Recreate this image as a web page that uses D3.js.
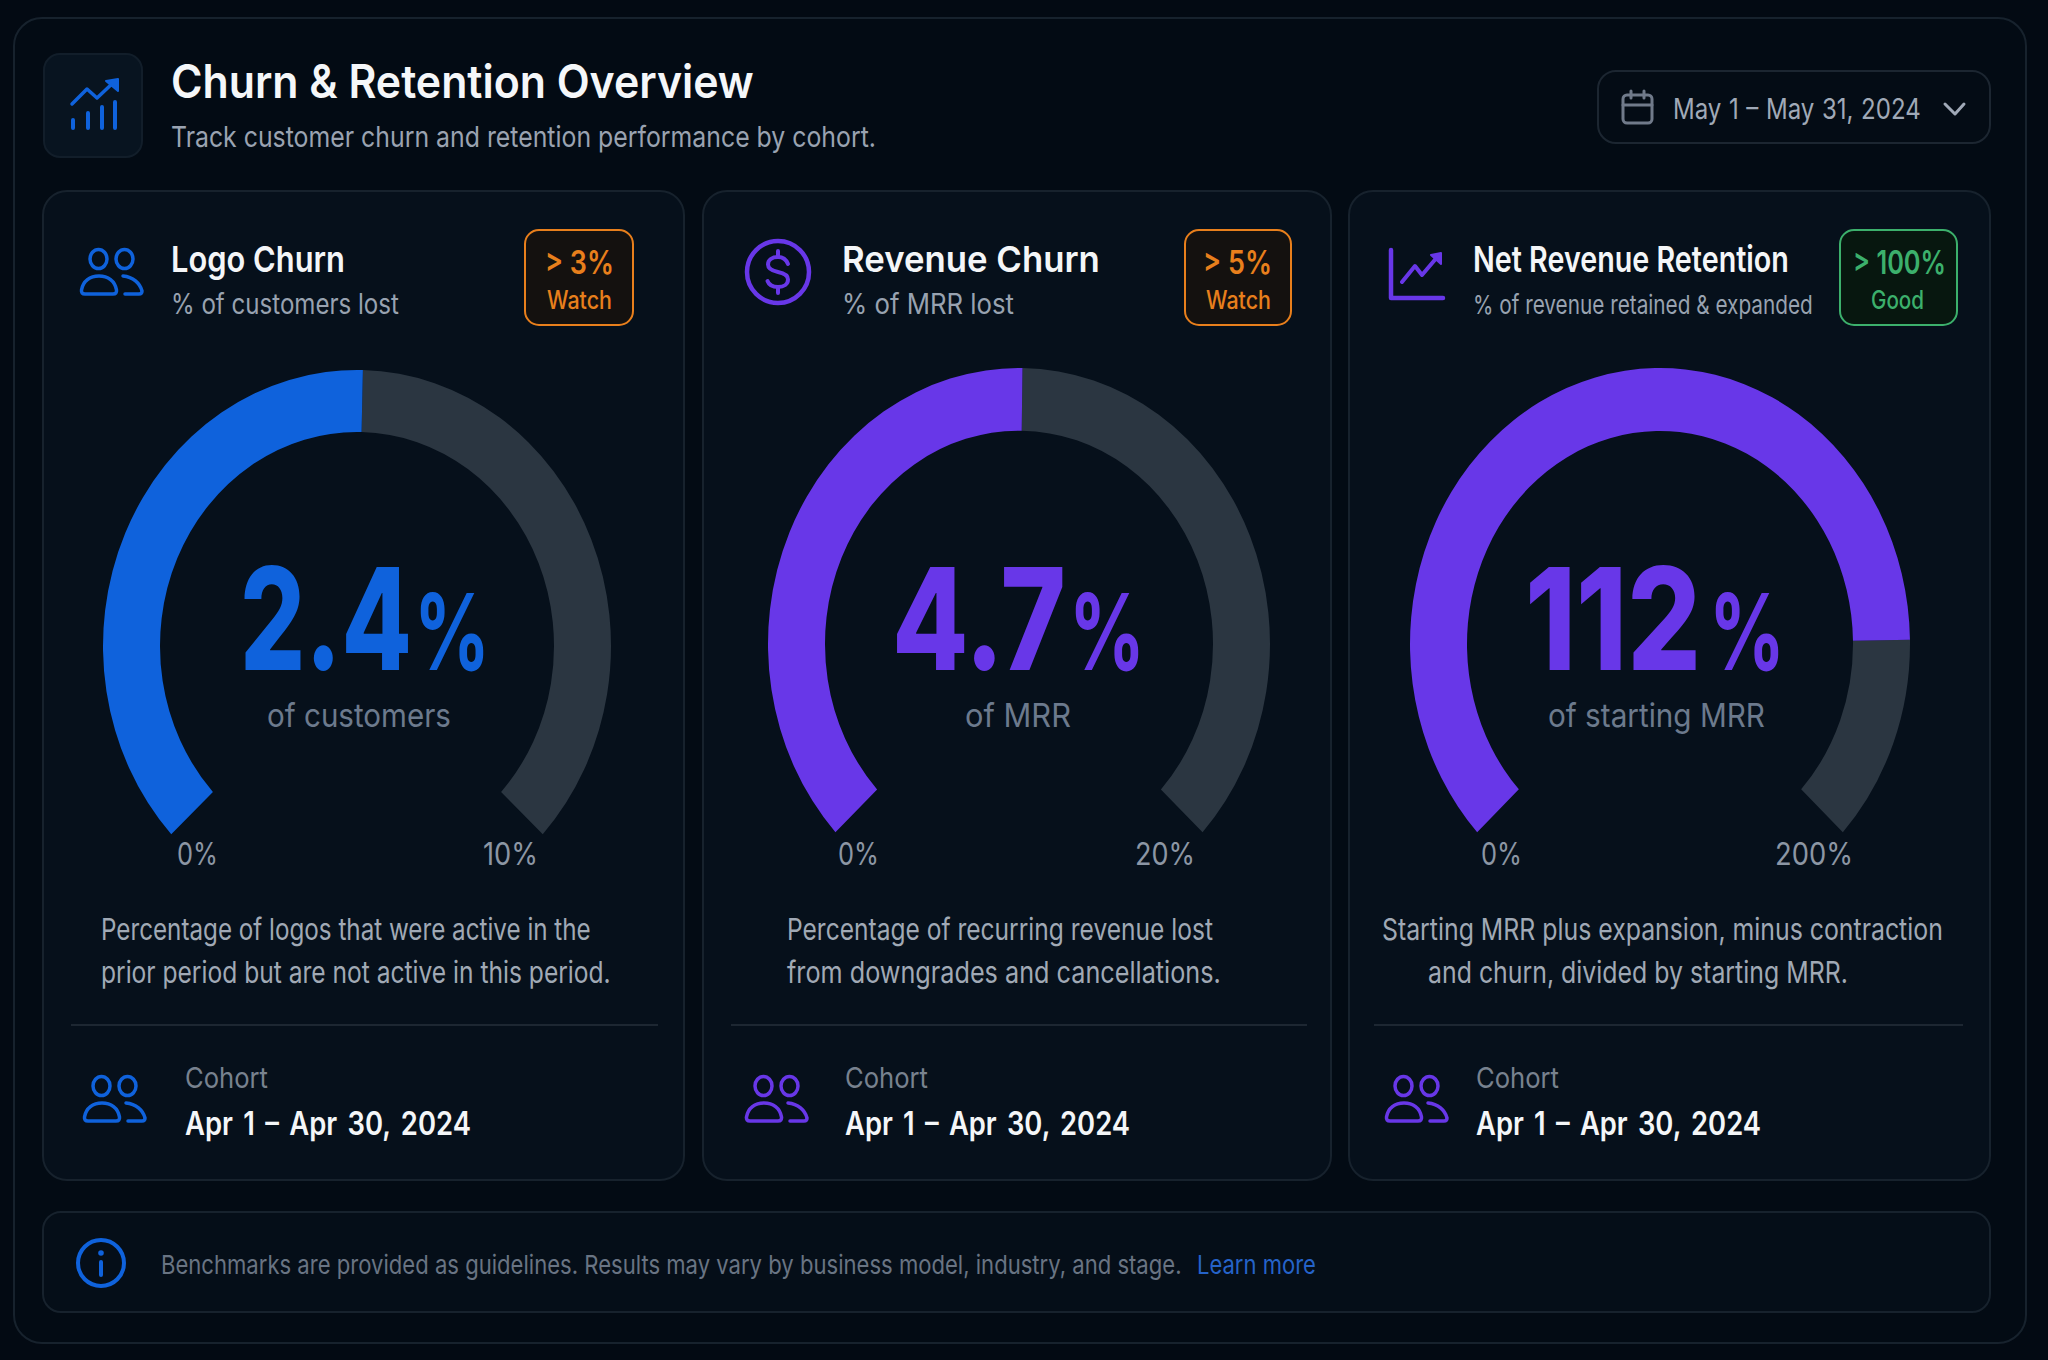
<!DOCTYPE html>
<html>
<head>
<meta charset="utf-8">
<title>Churn &amp; Retention Overview</title>
<script src="https://cdn.jsdelivr.net/npm/d3@7"></script>
<style>
	html, body { margin: 0; padding: 0; background: #030a13; }
	svg { display: block; }
	text { font-family: Inter, "Noto Sans", sans-serif; }
</style>
</head>
<body>
<svg id="chart" width="2048" height="1360"></svg>
<script>
(function () {

	'use strict';

	// chart content
	var cardTitles = ['Logo Churn', 'Revenue Churn', 'Net Revenue Retention'];
	var cardSubtitles = ['% of customers lost', '% of MRR lost', '% of revenue retained & expanded'];
	var benchmarks = ['> 3%', '> 5%', '> 100%'];
	var benchmarkStates = ['Watch', 'Watch', 'Good'];
	var valueLabels = ['2.4', '4.7', '112'];
	var valueCaptions = ['of customers', 'of MRR', 'of starting MRR'];
	var minLabels = ['0%', '0%', '0%'];
	var maxLabels = ['10%', '20%', '200%'];
	var descriptions = [
		['Percentage of logos that were active in the', 'prior period but are not active in this period.'],
		['Percentage of recurring revenue lost', 'from downgrades and cancellations.'],
		['Starting MRR plus expansion, minus contraction', 'and churn, divided by starting MRR.']
	];
	var cohortDates = ['Apr 1 \u2013 Apr 30, 2024', 'Apr 1 \u2013 Apr 30, 2024', 'Apr 1 \u2013 Apr 30, 2024'];

	// share of the gauge sweep that is filled. The reference
	// does not fill its gauges in proportion to the printed value (2.4 of 10 fills half).
	var gaugeFill = [0.505, 0.503, 0.835];

	// colours
	var blue = '#0f62dc';
	var purple = '#6837e8';
	var orange = '#e87f1c';
	var green = '#3cb06c';
	var track = '#2b3641';
	var border = '#17222d';

	var accents = [blue, purple, purple];
	var badgeColors = [orange, orange, green];
	var badgeFills = ['#14110f', '#14110f', '#07170f'];

	// layout
	var cards = [
		{x: 43, w: 641, cx: 357, a: 254, cy: 646, b: 276, dividerX: [71, 658], badge: [525, 108], titleX: 171, titleW: 174, subW: 228, subY: 314, subSize: 28,
			benchX: 545, benchW: 69, stateX: 547, stateW: 65, numX: 240, numW: 172, pctX: 414, capX: 267, capW: 184,
			minX: 177, minW: 41, maxX: 483, maxW: 55, descX: [101, 101], descW: [490, 510], iconX: 83, cohortX: 185, cohortW: 286, labelW: 83},
		{x: 703, w: 628, cx: 1019, a: 251, cy: 644, b: 276, dividerX: [731, 1307], badge: [1185, 106], titleX: 842, titleW: 258, subW: 172, subY: 314, subSize: 28,
			benchX: 1203, benchW: 69, stateX: 1206, stateW: 65, numX: 892, numW: 174, pctX: 1069, capX: 965, capW: 106,
			minX: 838, minW: 41, maxX: 1135, maxW: 60, descX: [787, 787], descW: [426, 434], iconX: 745, cohortX: 845, cohortW: 285, labelW: 83},
		{x: 1349, w: 641, cx: 1660, a: 250, cy: 644, b: 276, dividerX: [1374, 1963], badge: [1840, 117], titleX: 1473, titleW: 316, subW: 340, subY: 314, subSize: 26,
			benchX: 1853, benchW: 93, stateX: 1871, stateW: 53, numX: 1525, numW: 176, pctX: 1709, capX: 1548, capW: 217,
			minX: 1481, minW: 41, maxX: 1775, maxW: 78, descX: [1382, 1428], descW: [561, 420], iconX: 1385, cohortX: 1476, cohortW: 285, labelW: 83}
	];

	var gaugeThick = 57;
	var sweep = 133 * Math.PI / 180;

	var svg = d3.select('#chart');

	/**
	 * Rounded box
	 */
	function box( g, x, y, w, h, r, fill, stroke, strokeWidth ) {
		return g.append('rect')
			.attr('x', x).attr('y', y)
			.attr('width', w).attr('height', h)
			.attr('rx', r).attr('ry', r)
			.attr('fill', fill)
			.attr('stroke', stroke)
			.attr('stroke-width', strokeWidth || 2);
	}

	/**
	 * Squeeze a text sideways to the width measured on the reference
	 */
	function fit( t, x, y, width ) {
		var natural = t.node().getComputedTextLength();

		t.attr('x', 0).attr('y', 0)
			.attr('transform', 'translate(' + x + ',' + y + ') scale(' + (width / natural) + ',1)');

		return t;
	}

	/**
	 * Text set on its baseline
	 */
	function label( g, str, x, y, size, weight, fill, width ) {
		var t = g.append('text')
			.attr('x', x).attr('y', y)
			.attr('font-size', size)
			.attr('font-weight', weight)
			.attr('fill', fill)
			.text(str);

		return width ? fit(t, x, y, width) : t;
	}

	function iconPath( g, d, color, width, fill ) {
		return g.append('path')
			.attr('d', d)
			.attr('fill', fill || 'none')
			.attr('stroke', color)
			.attr('stroke-width', width)
			.attr('stroke-linecap', 'round')
			.attr('stroke-linejoin', 'round');
	}

	/**
	 * Two people icon, 64 wide and 48 high
	 */
	function peopleIcon( parent, x, y, color ) {
		var g = parent.append('g').attr('transform', 'translate(' + x + ',' + y + ')');

		g.selectAll('ellipse')
			.data([18.500, 44.500])
			.enter().append('ellipse')
			.attr('cx', function (d) { return d; })
			.attr('cy', 11)
			.attr('rx', 8.500)
			.attr('ry', 9.500)
			.attr('fill', 'none')
			.attr('stroke', color)
			.attr('stroke-width', 3.500);

		iconPath(g, 'M5 46H33Q37 46 36.500 42C35 33 28 28 19 28C10 28 3 33 1.500 42Q1 46 5 46Z', color, 3.500);
		iconPath(g, 'M43 28C53 29 60 35 62 43Q62 46 59 46H45', color, 3.500);
	}

	function dollarIcon( parent, cx, cy, color ) {
		var g = parent.append('g').attr('transform', 'translate(' + cx + ',' + cy + ')');

		g.append('circle').attr('r', 31).attr('fill', 'none').attr('stroke', color).attr('stroke-width', 4.500);
		iconPath(g, 'M10 -8C8 -13 4 -15 0 -15C-6 -15 -10 -12 -10 -7.500C-10 -3 -5 -1 0 0C5 1 10 3 10 7.500C10 12 6 15 0 15C-5 15 -9 13 -10.500 9', color, 4);
		iconPath(g, 'M0 -21V-15M0 15V21', color, 4);
	}

	function growthIcon( parent, x, y, color ) {
		var g = parent.append('g').attr('transform', 'translate(' + x + ',' + y + ')');

		iconPath(g, 'M2 2V50H54', color, 4.500);
		iconPath(g, 'M13 34L26 18L33 27L50 7', color, 4);
		iconPath(g, 'M42 7L52 5L52 16Z', color, 2, color);
	}

	function headerIcon( parent ) {
		var g = parent.append('g');

		iconPath(g, 'M73 120V128M88 113V128M102 107V128M115 102V128', blue, 4);
		iconPath(g, 'M72 104L87 89L97 98L114 82', blue, 3.500);
		iconPath(g, 'M106 81L118 79L118 91Z', blue, 2, blue);
	}

	function calendarIcon( parent ) {
		var g = parent.append('g');
		var stroke = '#707a8a';

		g.append('rect')
			.attr('x', 1623).attr('y', 95).attr('width', 29).attr('height', 28).attr('rx', 4)
			.attr('fill', 'none').attr('stroke', stroke).attr('stroke-width', 3);
		iconPath(g, 'M1623 105H1652M1631 91V98M1644 91V98', stroke, 3);
	}

	function drawGauge( parent, card, fill, color ) {
		var g = parent.append('g')
			.attr('transform', 'translate(' + card.cx + ',' + card.cy + ') scale(1,' + (card.b / card.a) + ')');

		var angle = d3.scaleLinear().domain([0, 1]).range([-sweep, sweep]);

		var arc = d3.arc()
			.innerRadius(card.a - gaugeThick)
			.outerRadius(card.a);

		g.selectAll('path')
			.data([
				{start: fill, end: 1, color: track},
				{start: 0, end: fill, color: color}
			])
			.enter().append('path')
			.attr('d', function (d) {
				return arc({startAngle: angle(d.start), endAngle: angle(d.end)});
			})
			.attr('fill', function (d) { return d.color; });
	}

	function drawCard( card, i ) {
		var g = svg.append('g').attr('class', 'card');
		var color = accents[i];

		box(g, card.x, 191, card.w, 989, 24, '#06101b', border);

		// card head
		if ( i === 0 ) {
			peopleIcon(g, 80, 248, color);
		} else if ( i === 1 ) {
			dollarIcon(g, 778, 272, color);
		} else {
			growthIcon(g, 1389, 248, color);
		}

		label(g, cardTitles[i], card.titleX, 272, 36, 600, '#f4f6f8', card.titleW);
		label(g, cardSubtitles[i], card.titleX, card.subY, card.subSize, 400, '#98a2b0', card.subW);

		box(g, card.badge[0], 230, card.badge[1], 95, 14, badgeFills[i], badgeColors[i]);
		label(g, benchmarks[i], card.benchX, 274, 33, 600, badgeColors[i], card.benchW);
		label(g, benchmarkStates[i], card.stateX, 309, 25, 500, badgeColors[i], card.stateW);

		// gauge
		drawGauge(g, card, gaugeFill[i], color);

		label(g, valueLabels[i], card.numX, 670, 142, 800, color, card.numW);
		label(g, '%', card.pctX, 670, 106, 700, color, 76);
		label(g, valueCaptions[i], card.capX, 727, 33, 400, '#6c7a8d', card.capW);
		label(g, minLabels[i], card.minX, 865, 31, 400, '#8c96a4', card.minW);
		label(g, maxLabels[i], card.maxX, 865, 31, 400, '#8c96a4', card.maxW);

		// description
		descriptions[i].forEach(function (line, k) {
			label(g, line, card.descX[k], 940 + k * 43, 30, 400, '#a0a9b5', card.descW[k]);
		});

		g.append('line')
			.attr('x1', card.dividerX[0]).attr('x2', card.dividerX[1])
			.attr('y1', 1025).attr('y2', 1025)
			.attr('stroke', '#1d2732').attr('stroke-width', 2);

		// cohort
		peopleIcon(g, card.iconX, 1075, color);
		label(g, 'Cohort', card.cohortX, 1088, 29, 400, '#78828f', card.labelW);

		var dateText = label(g, cohortDates[i], card.cohortX, 1135, 32, 600, '#f4f6f8')
			.style('word-spacing', '4px');

		fit(dateText, card.cohortX, 1135, card.cohortW);
	}

	//////////

	// outer panel
	box(svg, 14, 18, 2012, 1325, 28, '#030b14', border);

	// page head
	box(svg, 44, 54, 98, 103, 16, '#081420', '#121e2a');
	headerIcon(svg);
	label(svg, 'Churn & Retention Overview', 171, 98, 46, 600, '#f5f7f9', 583);
	label(svg, 'Track customer churn and retention performance by cohort.', 171, 147, 29, 400, '#9aa3b1', 705);

	// date picker
	box(svg, 1598, 71, 392, 72, 18, '#040c15', '#1c2631');
	calendarIcon(svg);
	label(svg, 'May 1 \u2013 May 31, 2024', 1673, 119, 29, 400, '#a0a9b7')
		.style('word-spacing', '1px')
		.call(function (t) { fit(t, 1673, 119, 248); });
	iconPath(svg, 'M1945 104L1955 114L1964 104', '#a0a9b7', 3);

	cards.forEach(drawCard);

	// footer note
	box(svg, 43, 1212, 1947, 100, 18, '#050e18', border);

	var info = svg.append('g').attr('transform', 'translate(101,1263)');

	info.append('circle').attr('r', 23).attr('fill', 'none').attr('stroke', blue).attr('stroke-width', 4);
	info.append('circle').attr('cy', -10).attr('r', 2.800).attr('fill', blue);
	iconPath(info, 'M0 -1V12', blue, 4);

	label(svg, 'Benchmarks are provided as guidelines. Results may vary by business model, industry, and stage.', 161, 1274, 26, 400, '#697483', 1021);
	label(svg, 'Learn more', 1197, 1274, 26, 400, '#2563c9', 119);

}());
</script>
</body>
</html>
